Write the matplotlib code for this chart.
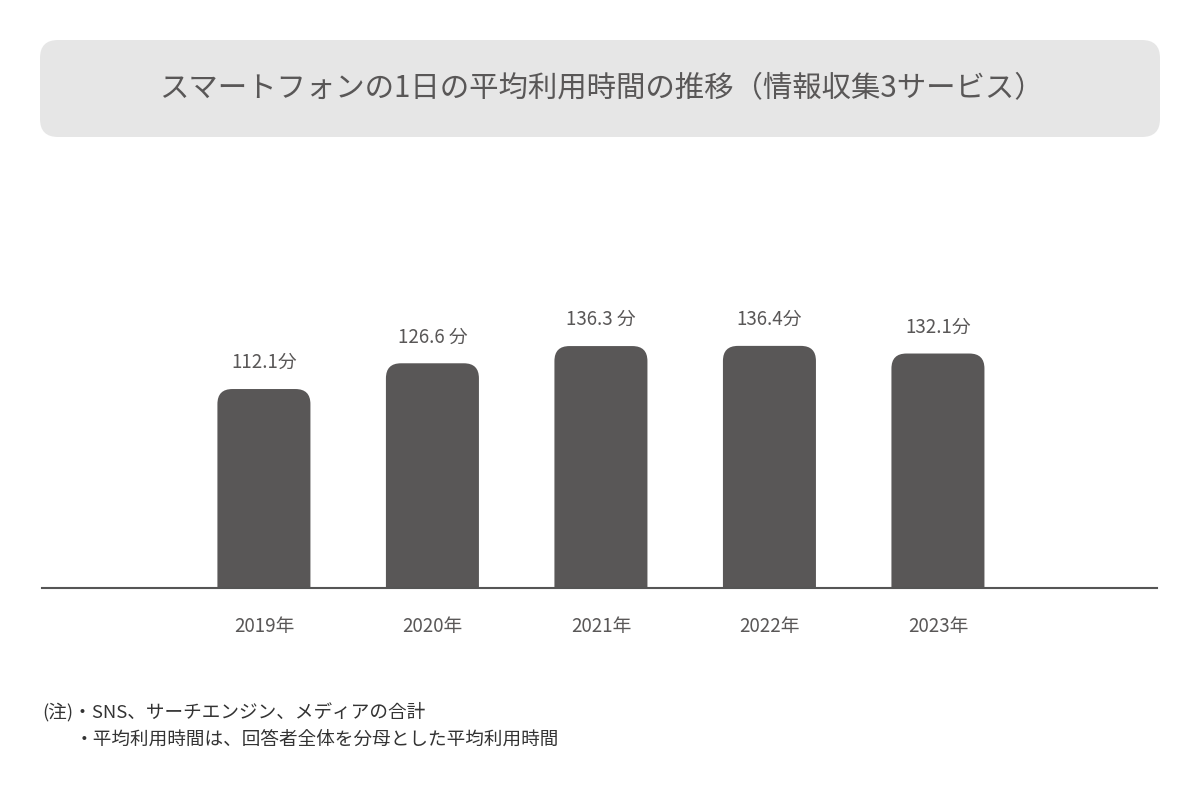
import matplotlib.pyplot as plt
from matplotlib.patches import FancyBboxPatch

plt.rcParams['font.family'] = ['Noto Sans CJK JP', 'DejaVu Sans']

# Data
years = ["2019年", "2020年", "2021年", "2022年", "2023年"]
minutes = [112.1, 126.6, 136.3, 136.4, 132.1]
value_labels = ["112.1分", "126.6 分", "136.3 分", "136.4分", "132.1分"]

title = "スマートフォンの1日の平均利用時間の推移（情報収集3サービス）"
notes = ["(注)・SNS、サーチエンジン、メディアの合計",
         "・平均利用時間は、回答者全体を分母とした平均利用時間"]

bar_color = "#595757"
text_color = "#595757"

W, H = 1200, 800
fig = plt.figure(figsize=(12, 8), dpi=100)

# title box (axes in pixel units)
tax = fig.add_axes([40 / W, (H - 137) / H, 1120 / W, 97 / H])
tax.set_xlim(0, 1120)
tax.set_ylim(0, 97)
tax.axis("off")
tax.add_patch(FancyBboxPatch((0, 0), 1120, 97, boxstyle="round,pad=0,rounding_size=18",
                             facecolor="#e6e6e6", edgecolor="none"))
tax.text(561, 48, title, ha="center", va="center", fontsize=21.2, color=text_color)

# main chart
ax_left, ax_right = 42, 1157
ax_base, ax_top = 588, 233
ax = fig.add_axes([ax_left / W, (H - ax_base) / H, (ax_right - ax_left) / W, (ax_base - ax_top) / H])
x = list(range(len(years)))
xlim = (-1.317, 5.30)
ylim = (0, 200)
ax.set_xlim(*xlim)
ax.set_ylim(*ylim)

px_per_x = (ax_right - ax_left) / (xlim[1] - xlim[0])
px_per_y = (ax_base - ax_top) / (ylim[1] - ylim[0])
aspect = px_per_x / px_per_y
width = 0.552
rs = 15 / px_per_x
for xi, v in zip(x, minutes):
    ext = rs * aspect
    ax.add_patch(FancyBboxPatch((xi - width / 2, -ext), width, v + ext,
                                boxstyle=f"round,pad=0,rounding_size={rs}",
                                mutation_aspect=aspect, facecolor=bar_color,
                                edgecolor="none", clip_on=True))

for xi, v, lab in zip(x, minutes, value_labels):
    ax.annotate(lab, (xi, v), xytext=(0, 19), textcoords="offset points",
                ha="center", va="center", fontsize=13.5, color=text_color)

ax.set_xticks(x)
ax.set_xticklabels(years, fontsize=13.5, color=text_color)
ax.tick_params(axis="x", length=0, pad=20)
ax.set_yticks([])
for s in ["top", "left", "right"]:
    ax.spines[s].set_visible(False)
ax.spines["bottom"].set_color("#555555")
ax.spines["bottom"].set_linewidth(1.5)

fig.text(42 / W, 1 - 712 / H, notes[0], ha="left", va="center", fontsize=13.4, color="#333333")
fig.text(75 / W, 1 - 740 / H, notes[1], ha="left", va="center", fontsize=13.4, color="#333333")

fig.savefig("out.png", dpi=100)
